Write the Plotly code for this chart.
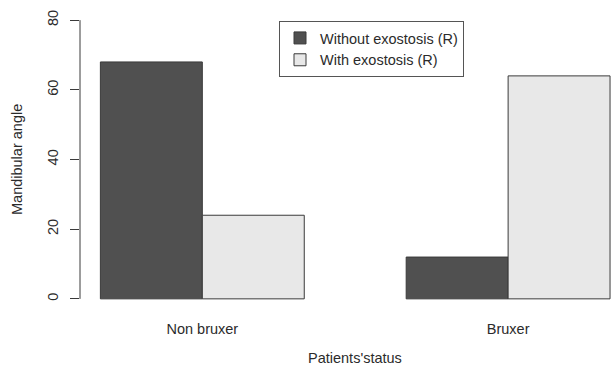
import plotly.graph_objects as go

# Patient groups and mean mandibular angle counts per exostosis status
categories = ["Non bruxer", "Bruxer"]
without_exostosis = [68, 12]
with_exostosis = [24, 64]
y_ticks = [0, 20, 40, 60, 80]

FONT = "Liberation Sans, Arial, Helvetica, sans-serif"
TEXT = "#2b2b2b"
EDGE = "#3a3a3a"

fig = go.Figure()
fig.add_trace(go.Bar(
    x=categories, y=without_exostosis, name="Without exostosis (R)",
    marker=dict(color="#505050", line=dict(color=EDGE, width=1)),
))
fig.add_trace(go.Bar(
    x=categories, y=with_exostosis, name="With exostosis (R)",
    marker=dict(color="#e8e8e8", line=dict(color=EDGE, width=1)),
))

W, H = 613, 369
ML, MR, MT, MB = 80, 0, 9, 59
plot_w = W - ML - MR
plot_h = H - MT - MB

fig.update_layout(
    width=W, height=H,
    margin=dict(l=ML, r=MR, t=MT, b=MB, pad=0),
    paper_bgcolor="white", plot_bgcolor="white",
    font=dict(family=FONT, size=14.5, color=TEXT),
    barmode="group", bargap=1 / 3, bargroupgap=0,
    showlegend=True,
    legend=dict(
        x=(279 - ML) / plot_w, y=(H - MB - 21) / plot_h,
        xanchor="left", yanchor="top",
        bgcolor="white", bordercolor="#555555", borderwidth=1,
        font=dict(family=FONT, size=14.5, color=TEXT),
        tracegroupgap=0,
    ),
    xaxis=dict(
        type="category", range=[-0.4, 1.343],
        showline=False, showgrid=False, zeroline=False, ticks="",
        ticklabelstandoff=8,
        tickfont=dict(family=FONT, size=14.5, color=TEXT),
    ),
    yaxis=dict(
        range=[-3.2, 83.2], tickvals=y_ticks,
        showline=False, showgrid=False, zeroline=False,
        ticks="outside", ticklen=9, tickwidth=1, tickcolor=EDGE,
        tickangle=-90, ticklabelstandoff=6,
        tickfont=dict(family=FONT, size=14.5, color=TEXT),
    ),
    shapes=[dict(
        type="line", xref="paper", yref="y",
        x0=0, x1=0, y0=y_ticks[0], y1=y_ticks[-1],
        line=dict(color=EDGE, width=1),
    )],
    annotations=[
        dict(text="Patients'status", xref="paper", yref="paper",
             x=(355 - ML) / plot_w, y=(H - MB - 358) / plot_h,
             xanchor="center", yanchor="middle", showarrow=False,
             font=dict(family=FONT, size=14.5, color=TEXT)),
        dict(text="Mandibular angle", xref="paper", yref="paper",
             x=(17 - ML) / plot_w, y=(H - MB - 160) / plot_h,
             xanchor="center", yanchor="middle", textangle=-90,
             showarrow=False,
             font=dict(family=FONT, size=14.5, color=TEXT)),
    ],
)

fig.write_html("out.html")
